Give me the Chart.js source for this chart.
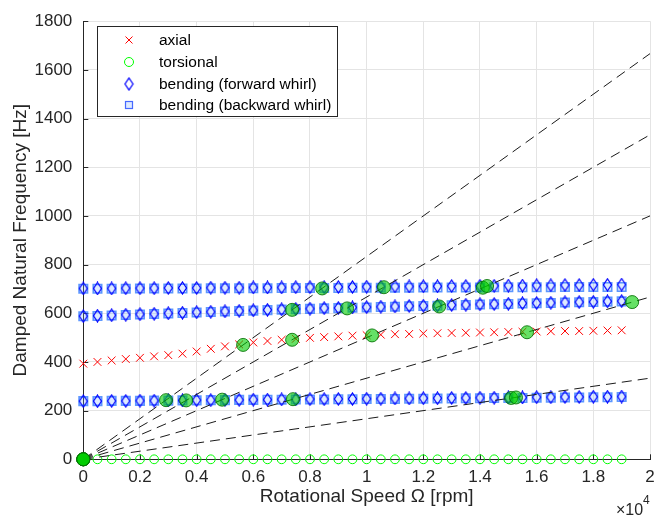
<!DOCTYPE html>
<html><head><meta charset="utf-8">
<script src="https://cdn.jsdelivr.net/npm/chart.js@4.4.1/dist/chart.umd.min.js"></script>
<style>html,body{margin:0;padding:0;background:#fff;}#wrap{width:667px;height:518px;position:relative;}</style>
</head><body><div id="wrap"><canvas id="c" width="667" height="518"></canvas></div>
<script>
// ---------- data ----------
const speedRpm = [0,500,1000,1500,2000,2500,3000,3500,4000,4500,5000,5500,6000,6500,7000,7500,8000,8500,9000,9500,10000,10500,11000,11500,12000,12500,13000,13500,14000,14500,15000,15500,16000,16500,17000,17500,18000,18500,19000];
const axialHz = [393,400,406,412,417,423,428,434,443,454,464,472,480,486,491,495,499,502,505,508,510,512,514,515,517,518,519,520,521,522,523,524,525,526,527,527,528,529,530];
const torsionalHz = [0,0,0,0,0,0,0,0,0,0,0,0,0,0,0,0,0,0,0,0,0,0,0,0,0,0,0,0,0,0,0,0,0,0,0,0,0,0,0];
const bendFwdLow = [239,239,240,240,241,241,242,242,243,243,244,244,245,245,246,246,247,247,248,248,249,249,250,250,251,251,252,252,253,253,254,254,255,255,256,256,257,257,258];
const bendBwdLow = [239,239,240,240,240,241,241,242,242,243,243,244,244,245,245,246,246,246,247,247,248,248,248,249,249,250,250,251,251,252,252,252,253,253,254,254,255,255,256];
const bendFwdMid = [588,590,592,594,596,598,600,602,604,606,608,610,612,614,616,618,619,621,622,624,625,627,628,630,631,632,634,635,637,638,639,641,642,643,645,646,647,649,650];
const bendBwdMid = [588,589,591,593,595,597,599,601,603,605,607,609,611,613,615,617,618,620,621,623,624,626,627,629,630,631,633,634,636,637,638,640,641,642,644,645,646,648,649];
const bendFwdTop = [702,702,702,703,703,703,704,704,704,705,705,705,706,706,706,707,707,707,708,708,709,709,710,710,711,711,712,712,713,713,714,714,715,715,716,716,717,717,718];
const bendBwdTop = [701,701,701,701,702,702,702,702,702,703,703,703,703,703,704,704,704,704,704,705,705,705,705,705,706,706,706,706,706,707,707,707,707,707,708,708,708,708,708];
const critRpm = [0,0,0,0,0,2920,3630,4900,7400,15100,15270,5640,7370,10190,15660,7370,9310,12560,19370,8430,10610,14100,14250];
const critHz  = [0,0,0,0,0,243,242,245,247,252,254,470,491,509,522,614,620,628,646,702,707,705,712];
const orderLineEndRpm = 20000;
const orderLineEndHz = [333.3,666.7,1000,1333.3,1666.7];
const xTickLabels = ['0','0.2','0.4','0.6','0.8','1','1.2','1.4','1.6','1.8','2'];
const legendLabels = ['axial','torsional','bending (forward whirl)','bending (backward whirl)'];

// ---------- styles ----------
const FONT = "'Liberation Sans', Arial, Helvetica, sans-serif";
const AX = '#262626';
function pts(xs, ys){ return xs.map((x,i)=>({x:x, y:ys[i]})); }
const diamondImg = (()=>{const c=document.createElement('canvas');c.width=11;c.height=14;const g=c.getContext('2d');
  g.strokeStyle='#0000ff';g.lineWidth=1.25;g.beginPath();g.moveTo(5.5,1);g.lineTo(9.5,7);g.lineTo(5.5,13);g.lineTo(1.5,7);g.closePath();g.stroke();return c;})();
const sqStyle = {pointStyle:'rect', pointRadius:6, pointBorderColor:'rgba(30,110,255,0.7)', pointBorderWidth:1.6, pointBackgroundColor:'rgba(120,170,255,0.25)'};

const datasets = [];
datasets.push({label:'crit', data: pts(critRpm, critHz), order:0, showLine:false, clip:false,
  pointStyle:'circle', pointRadius:6.5, pointBackgroundColor:'rgba(0,205,0,0.6)', pointBorderColor:'rgba(0,110,0,0.85)', pointBorderWidth:1});
orderLineEndHz.forEach((h,i)=>datasets.push({label:'order'+(i+1), type:'line', data:[{x:0,y:0},{x:orderLineEndRpm,y:h}], order:1,
  borderColor:'#1a1a1a', borderWidth:1, borderDash:[10,6], pointRadius:0, fill:false}));
[bendFwdLow,bendFwdMid,bendFwdTop].forEach(a=>datasets.push({label:'fwd', data:pts(speedRpm,a), order:2, showLine:false, clip:false, pointStyle:diamondImg, pointRadius:5}));
[bendBwdLow,bendBwdMid,bendBwdTop].forEach(a=>datasets.push(Object.assign({label:'bwd', data:pts(speedRpm,a), order:3, showLine:false, clip:false}, sqStyle)));
datasets.push({label:'axial', data:pts(speedRpm,axialHz), order:4, showLine:false, clip:false, pointStyle:'crossRot', pointRadius:5.5, pointBorderColor:'#ff0000', pointBorderWidth:1});
datasets.push({label:'torsional', data:pts(speedRpm,torsionalHz), order:5, showLine:false, clip:false, pointStyle:'circle', pointRadius:4.4, pointBorderColor:'#00ff00', pointBackgroundColor:'rgba(0,0,0,0)', pointBorderWidth:1});

// ---------- plugins ----------
const decor = {
  id:'decor',
  beforeDatasetsDraw(chart){
    const {ctx, chartArea:a, scales:{x,y}} = chart;
    ctx.save(); ctx.strokeStyle=AX; ctx.lineWidth=1;
    x.ticks.forEach(t=>{const px=Math.round(x.getPixelForValue(t.value))+0.5; ctx.beginPath(); ctx.moveTo(px,a.bottom); ctx.lineTo(px,a.bottom-5); ctx.stroke();});
    y.ticks.forEach(t=>{const py=Math.round(y.getPixelForValue(t.value))+0.5; ctx.beginPath(); ctx.moveTo(a.left,py); ctx.lineTo(a.left+5,py); ctx.stroke();});
    ctx.restore();
  },
  afterDraw(chart){
    const {ctx} = chart;
    ctx.save();
    ctx.fillStyle=AX; ctx.textBaseline='middle'; ctx.textAlign='left';
    ctx.font='16px '+FONT; ctx.fillText('\u00d710', 616, 511);
    ctx.font='12px '+FONT; ctx.fillText('4', 643, 501);
    const L=97.5, T=26.5, W=240, H=90;
    ctx.fillStyle='#fff'; ctx.fillRect(L,T,W,H);
    ctx.strokeStyle='#262626'; ctx.lineWidth=1; ctx.strokeRect(L,T,W,H);
    const rows=[40,62,84,105], mx=129;
    ctx.strokeStyle='#ff0000'; ctx.beginPath(); ctx.moveTo(mx-3.5,rows[0]-3.5); ctx.lineTo(mx+3.5,rows[0]+3.5); ctx.moveTo(mx+3.5,rows[0]-3.5); ctx.lineTo(mx-3.5,rows[0]+3.5); ctx.stroke();
    ctx.strokeStyle='#00ff00'; ctx.beginPath(); ctx.arc(mx,rows[1],4.5,0,Math.PI*2); ctx.stroke();
    ctx.drawImage(diamondImg, mx-5.5, rows[2]-7);
    ctx.fillStyle='rgba(120,170,255,0.25)'; ctx.strokeStyle='rgba(40,80,255,0.85)'; ctx.lineWidth=1.2;
    ctx.fillRect(mx-3.5,rows[3]-3.5,7,7); ctx.strokeRect(mx-3.5,rows[3]-3.5,7,7);
    ctx.fillStyle='#000'; ctx.font='15.5px '+FONT; ctx.textAlign='left'; ctx.textBaseline='middle';
    legendLabels.forEach((s,i)=>ctx.fillText(s, 159, rows[i]+1));
    ctx.restore();
  }
};

new Chart(document.getElementById('c'), {
  type:'scatter',
  data:{datasets},
  options:{
    responsive:false, animation:false, devicePixelRatio:1,
    layout:{padding:{top:12.3, right:17, left:0, bottom:0}},
    plugins:{legend:{display:false}, tooltip:{enabled:false}},
    scales:{
      x:{type:'linear', min:0, max:20000,
        afterFit(s){ s.height = 58.7; },
        afterBuildTicks(s){ s.ticks = xTickLabels.map((l,i)=>({value:i*2000})); },
        ticks:{stepSize:2000, padding:8, color:AX, font:{family:FONT, size:17}, maxRotation:0,
          callback:(v,i)=>xTickLabels[i]},
        grid:{color:'#e4e4e4', drawTicks:false},
        border:{display:true, color:AX, width:1},
        title:{display:true, text:'Rotational Speed \u03a9 [rpm]', color:AX, font:{family:FONT, size:19}, padding:{top:0,bottom:9.5}}
      },
      y:{type:'linear', min:0, max:1800,
        afterFit(s){ s.width = 83.3; },
        ticks:{stepSize:200, padding:11, color:AX, font:{family:FONT, size:17}, callback:(v)=>String(v)},
        grid:{color:'#e4e4e4', drawTicks:false},
        border:{display:true, color:AX, width:1},
        title:{display:true, text:'Damped Natural Frequency [Hz]', color:AX, font:{family:FONT, size:19}, padding:{top:9,bottom:0}}
      }
    }
  },
  plugins:[decor]
});
</script></body></html>
